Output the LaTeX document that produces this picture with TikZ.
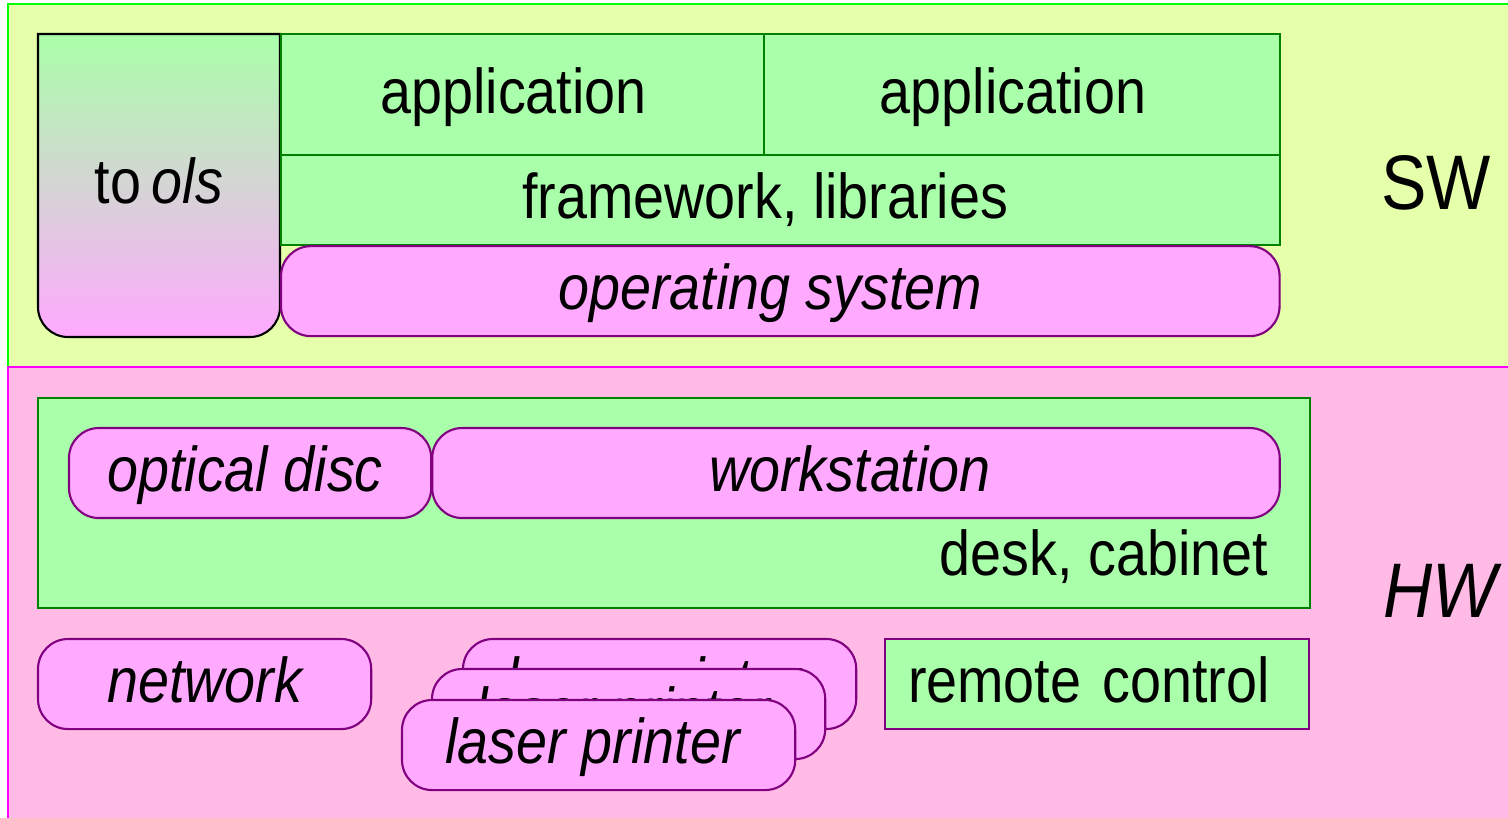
\documentclass[tikz,border=0pt]{standalone}
\usepackage{fontspec}
\setmainfont{Liberation Sans}[FakeStretch=0.88]
\usetikzlibrary{positioning}
\definecolor{swfill}{RGB}{230,255,170}
\definecolor{swline}{RGB}{0,255,0}
\definecolor{hwfill}{RGB}{255,187,230}
\definecolor{hwline}{RGB}{255,0,255}
\definecolor{boxfill}{RGB}{170,255,170}
\definecolor{boxgreen}{RGB}{0,128,0}
\definecolor{pinkfill}{RGB}{255,170,255}
\definecolor{boxpurple}{RGB}{128,0,128}

\begin{document}
\begin{tikzpicture}[
    x=0.01cm, y=-0.01cm,
    every node/.style={inner sep=0pt, outer sep=0pt, text height=0.45cm, text depth=0.08cm, font=\fontsize{18}{22}\selectfont},
    greenbox/.style={rectangle, draw=boxgreen, fill=boxfill, line width=0.6pt},
    pinkbox/.style={rectangle, rounded corners=0.3cm, draw=boxpurple, fill=pinkfill, line width=0.6pt, minimum height=0.9cm, font=\fontsize{18}{22}\selectfont\itshape},
    tag/.style={text height=0.55cm, text depth=0cm, font=\fontsize{22}{26}\selectfont}
]
    \useasboundingbox (0,0) rectangle (1508,818);
    \clip (0,0) rectangle (1508,818);
    \draw[draw=swline, fill=swfill, line width=0.6pt] (8,4) rectangle (1530,367);
    \draw[draw=hwline, fill=hwfill, line width=0.6pt] (8,367) rectangle (1530,830);

    \draw[line width=0.6pt, top color=boxfill, bottom color=pinkfill] (38,34) -- (38,307)
        arc[start angle=180, end angle=90, radius=30] -- (250,337)
        arc[start angle=90, end angle=0, radius=30] -- (280,34) -- cycle;
    \node (tools) at (159,185) {to\,\textit{ols}};

    \node[greenbox, minimum width=4.83cm, minimum height=1.21cm, anchor=north west] (app1) at (281,34) {application\hspace*{0.18cm}};
    \node[greenbox, minimum width=5.15cm, minimum height=1.21cm, right=0pt of app1] (app2) {application\hspace*{0.18cm}};
    \node[greenbox, minimum width=9.98cm, minimum height=0.90cm, anchor=north west] (fw) at (app1.south west) {framework, libraries\hspace*{0.3cm}};
    \node[pinkbox, minimum width=9.98cm, below=0.01cm of fw] (os) {operating system\hspace*{0.2cm}};
    \node[tag] (sw) at (1436,182) {SW};

    \node[greenbox, minimum width=12.71cm, minimum height=2.10cm, anchor=north west] (desk) at (38,398) {};
    \node[pinkbox, minimum width=3.62cm, anchor=north west] (disc) at (69,428) {optical disc\hspace*{0.1cm}};
    \node[pinkbox, minimum width=8.47cm, right=0.01cm of disc] (ws) {workstation\hspace*{0.12cm}};
    \node[anchor=base east] (desklabel) at (1268,575) {desk, cabinet};

    \node[pinkbox, minimum width=3.33cm, anchor=north west] (net) at (38,639) {network};
    \foreach \name/\x/\y in {printerc/463/639, printerb/432/669, printera/402/700}
        \node[pinkbox, minimum width=3.93cm, anchor=north west] (\name) at (\x,\y) {laser printer\hspace*{0.12cm}};
    \node[greenbox, draw=boxpurple, text width=3.78cm, inner xsep=0.23cm, minimum height=0.9cm, align=left, anchor=north west] (remote) at (885,639) {remote control};
    \node[tag] (hw) at (1440,590) {\itshape HW};
\end{tikzpicture}
\end{document}
